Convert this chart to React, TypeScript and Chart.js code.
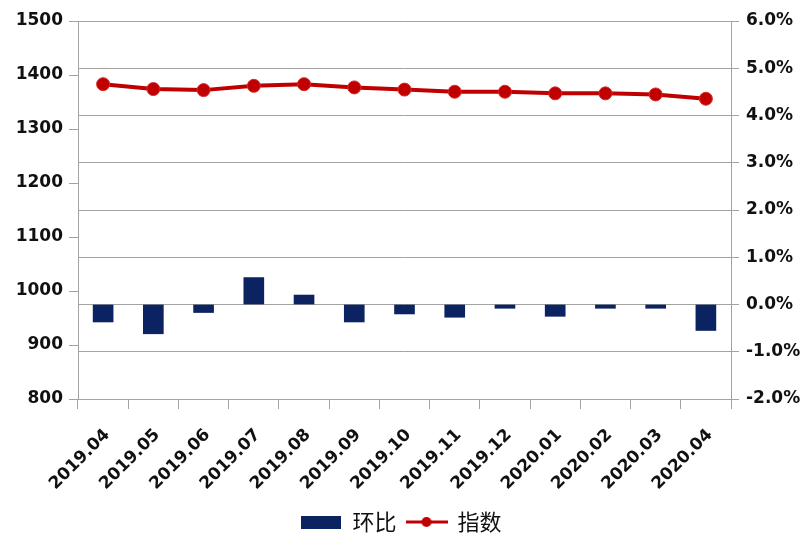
import React, { useEffect, useRef } from "react";
import { Chart, registerables } from "chart.js";

Chart.register(...registerables);

const categories = [
  "2019.04", "2019.05", "2019.06", "2019.07", "2019.08", "2019.09", "2019.10",
  "2019.11", "2019.12", "2020.01", "2020.02", "2020.03", "2020.04",
];
const momChange = [-0.37, -0.62, -0.17, 0.57, 0.2, -0.37, -0.2, -0.27, -0.08, -0.25, -0.08, -0.08, -0.55];
const indexValues = [1383, 1374, 1372, 1380, 1383, 1377, 1373, 1369, 1369, 1366, 1366, 1364, 1356];
const seriesNames = ["环比", "指数"];

const BAR_COLOR = "#0b2461";
const LINE_COLOR = "#c00000";
const GRID = "#a3a3a3";
const TEXT = "#111111";

export default function App() {
  const ref = useRef<HTMLCanvasElement | null>(null);

  useEffect(() => {
    if (!ref.current) return;

    const rectImg = document.createElement("canvas");
    rectImg.width = 40;
    rectImg.height = 13;
    const rc = rectImg.getContext("2d")!;
    rc.fillStyle = BAR_COLOR;
    rc.fillRect(0, 0, 40, 13);

    const lineImg = document.createElement("canvas");
    lineImg.width = 42;
    lineImg.height = 14;
    const lc = lineImg.getContext("2d")!;
    lc.strokeStyle = LINE_COLOR;
    lc.lineWidth = 3;
    lc.beginPath();
    lc.moveTo(0, 7);
    lc.lineTo(42, 7);
    lc.stroke();
    lc.fillStyle = LINE_COLOR;
    lc.beginPath();
    lc.arc(21, 7, 5, 0, Math.PI * 2);
    lc.fill();

    const tickFont = { family: "'DejaVu Sans', sans-serif", weight: "bold" as const, size: 17 };

    const chart = new Chart(ref.current, {
      type: "bar",
      data: {
        labels: categories,
        datasets: [
          {
            type: "bar",
            label: seriesNames[0],
            data: momChange,
            backgroundColor: BAR_COLOR,
            borderWidth: 0,
            barThickness: 20,
            yAxisID: "y1",
          },
          {
            type: "line",
            label: seriesNames[1],
            data: indexValues,
            borderColor: LINE_COLOR,
            borderWidth: 4,
            pointRadius: 6.5,
            pointBackgroundColor: LINE_COLOR,
            pointBorderColor: "#d42a2a",
            pointBorderWidth: 1,
            tension: 0,
            yAxisID: "y",
          },
        ],
      },
      options: {
        responsive: false,
        animation: false,
        devicePixelRatio: 1,
        layout: { padding: { top: 21, left: 0, right: 0, bottom: -7 } },
        plugins: {
          tooltip: { enabled: false },
          legend: {
            position: "bottom",
            labels: {
              usePointStyle: true,
              pointStyleWidth: 40,
              boxHeight: 14,
              padding: 10,
              color: TEXT,
              font: { family: "'Noto Sans CJK SC', sans-serif", size: 22 },
              generateLabels: (c: any) => {
                const items = Chart.defaults.plugins.legend.labels.generateLabels(c);
                items[0].pointStyle = rectImg as any;
                items[1].pointStyle = lineImg as any;
                return items;
              },
            },
          },
        },
        scales: {
          x: {
            offset: true,
            grid: {
              offset: true,
              drawOnChartArea: false,
              drawTicks: true,
              tickLength: 10,
              color: GRID,
            },
            border: { display: true, color: GRID },
            ticks: {
              autoSkip: false,
              minRotation: 45,
              maxRotation: 45,
              padding: 16,
              labelOffset: 4,
              color: TEXT,
              font: { family: "'DejaVu Sans', sans-serif", weight: "bold", size: 17 },
            },
            afterFit: (s: any) => {
              s.height = 102;
            },
          },
          y: {
            position: "left",
            min: 800,
            max: 1500,
            ticks: {
              stepSize: 100,
              padding: 6,
              color: TEXT,
              font: tickFont,
              callback: (v: any) => String(v),
            },
            grid: { drawOnChartArea: false, drawTicks: true, tickLength: 9, color: GRID },
            border: { display: true, color: GRID },
            afterFit: (s: any) => {
              s.width = 78;
            },
          },
          y1: {
            position: "right",
            min: -2,
            max: 6,
            ticks: {
              stepSize: 1,
              padding: 7,
              color: TEXT,
              font: tickFont,
              callback: (v: any) => Number(v).toFixed(1) + "%",
            },
            grid: { drawOnChartArea: true, drawTicks: true, tickLength: 8, color: GRID },
            border: { display: true, color: GRID },
            afterFit: (s: any) => {
              s.width = 72;
            },
          },
        },
      },
    });

    return () => chart.destroy();
  }, []);

  return (
    <div style={{ position: "fixed", left: 0, top: 0, width: 803, height: 536, background: "#fff" }}>
      <canvas ref={ref} width={803} height={536} />
    </div>
  );
}
